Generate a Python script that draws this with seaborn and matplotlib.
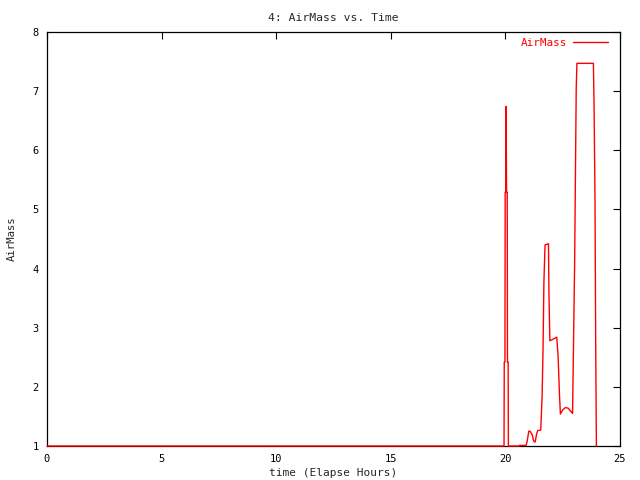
import matplotlib
matplotlib.use("Agg")
import matplotlib.pyplot as plt
import seaborn as sns
import pandas as pd

sns.set_style("white")
plt.rcParams['font.family'] = ['DejaVu Sans Mono']

title = "4: AirMass vs. Time"
xlabel = "time (Elapse Hours)"
ylabel = "AirMass"
series_name = "AirMass"

time_h = [0.0, 19.94, 19.95, 19.98, 19.99, 20.02, 20.03, 20.05, 20.08, 20.09, 20.12, 20.13,
          20.61, 20.62, 20.90, 20.95, 21.02, 21.08, 21.12, 21.18, 21.22, 21.26, 21.30,
          21.36, 21.41, 21.54, 21.56, 21.60, 21.64, 21.68, 21.73, 21.88, 21.90, 21.94,
          22.10, 22.24, 22.30, 22.36, 22.40, 22.50, 22.62, 22.74, 22.93, 22.96, 23.02,
          23.06, 23.09, 23.12, 23.84, 23.87, 23.91, 23.94, 23.97]
airmass = [1.0, 1.0, 2.42, 2.42, 5.29, 5.29, 6.74, 5.29, 5.29, 2.42, 2.42, 1.0,
           1.0, 1.01, 1.01, 1.08, 1.25, 1.25, 1.22, 1.18, 1.10, 1.07, 1.07,
           1.20, 1.26, 1.27, 1.45, 1.82, 2.59, 3.77, 4.40, 4.42, 3.58, 2.78,
           2.81, 2.84, 2.51, 1.86, 1.54, 1.61, 1.65, 1.64, 1.55, 2.40, 4.07,
           5.78, 7.04, 7.47, 7.47, 6.70, 5.14, 2.69, 1.0]

xticks = [0, 5, 10, 15, 20, 25]
yticks = [1, 2, 3, 4, 5, 6, 7, 8]

df = pd.DataFrame({"time": time_h, "AirMass": airmass})

fig = plt.figure(figsize=(6.4, 4.8), dpi=100)
ax = fig.add_axes([47/640, 1-446/480, (620-47)/640, (446-32)/480])

sns.lineplot(data=df, x="time", y="AirMass", color="red", lw=1.0,
             estimator=None, sort=False, ax=ax, label=series_name)
for ln in ax.lines:
    ln.set_zorder(5)
    ln.set_clip_on(False)

ax.set_xlim(0, 25)
ax.set_ylim(1, 8)
ax.set_xticks(xticks)
ax.set_yticks(yticks)
ax.tick_params(direction="in", length=5, width=0.8, top=True, right=True,
               labelsize=7.5, pad=6, colors="black")
for s in ax.spines.values():
    s.set_linewidth(0.9)
    s.set_color("black")
    s.set_zorder(2)

ax.set_title(title, fontsize=8.2, pad=8)
ax.set_xlabel(xlabel, fontsize=8.0, labelpad=3)
ax.set_ylabel(ylabel, fontsize=7.7, labelpad=11)

leg = ax.legend(loc="upper right", frameon=False, markerfirst=False,
                fontsize=7.9, handlelength=3.2, borderaxespad=0, borderpad=0,
                handletextpad=0.5,
                bbox_to_anchor=(1 - 12/573, 1 - 6/414))
for t in leg.get_texts():
    t.set_color("red")

fig.savefig("out.png", dpi=100)
